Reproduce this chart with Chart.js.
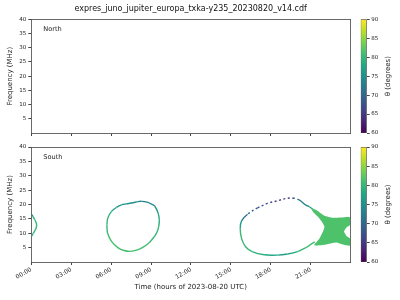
<!DOCTYPE html>
<html>
<head>
<meta charset="utf-8">
<script src="https://cdn.jsdelivr.net/npm/chart.js@4.4.0/dist/chart.umd.min.js"></script>
<style>
  body { margin: 0; background: #fff; width: 400px; height: 300px; position: relative; overflow: hidden; }
  canvas { position: absolute; }
</style>
</head>
<body>
<canvas id="north" width="355" height="140" style="left:0;top:0"></canvas>
<canvas id="south" width="355" height="160" style="left:0;top:140px"></canvas>
<canvas id="cbNorth" width="45" height="140" style="left:355px;top:0"></canvas>
<canvas id="cbSouth" width="45" height="160" style="left:355px;top:140px"></canvas>
<script>
// axes
const timeTicks = [0, 3, 6, 9, 12, 15, 18, 21]
const timeTickLabels = ['00:00', '03:00', '06:00', '09:00', '12:00', '15:00', '18:00', '21:00']
const freqTicks = [5, 10, 15, 20, 25, 30, 35, 40]
const thetaTicks = [60, 65, 70, 75, 80, 85, 90]

// South emission: time (h), frequency (MHz), theta (deg)
const arcAHours = [0.0, 0.12, 0.25, 0.35, 0.4, 0.37, 0.28, 0.15, 0.03]
const arcAFreq = [16.6, 15.9, 14.8, 13.8, 12.9, 11.9, 11.0, 10.0, 9.0]
const arcATheta = [74, 79, 80, 80, 80, 80, 80, 79, 76]

const arcBHours = [5.68, 5.75, 6.03, 6.4, 6.78, 7.15, 7.65, 8.0, 8.3, 8.7, 9.0, 9.28, 9.53, 9.62, 9.58, 9.48, 9.3, 9.1, 8.85, 8.53, 8.03, 7.4, 6.9, 6.53, 6.03, 5.73, 5.68]
const arcBFreq = [13.0, 15.3, 17.6, 19.0, 19.9, 20.2, 20.6, 21.0, 21.1, 20.8, 20.2, 19.4, 17.0, 14.7, 12.5, 10.8, 9.2, 8.0, 6.7, 5.5, 4.3, 3.7, 4.1, 4.9, 7.2, 10.1, 13.0]
const arcBTheta = [80, 79, 77, 76, 75, 75, 75, 74, 73, 73, 74, 76, 78, 79, 80, 80, 80, 80, 81, 81, 81, 81, 81, 81, 81, 80, 80]

const arcCHours = [21.53, 20.9, 20.63, 20.13, 19.76, 19.2, 18.5, 17.76, 17.0, 16.25, 15.8, 15.7, 15.8, 16.1, 16.6, 17.5, 18.5, 19.26, 20.0, 20.63, 21.0, 21.3]
const arcCFreq = [16.9, 19.2, 19.8, 21.6, 22.15, 22.15, 21.3, 20.4, 18.8, 16.6, 14.3, 11.7, 8.2, 5.3, 3.6, 2.5, 2.4, 2.8, 3.6, 5.0, 6.1, 7.0]
const arcCTheta = [77, 74, 73, 71, 66, 66, 66, 67, 69, 72, 77, 80, 80, 80, 79, 78, 77, 78, 80, 81, 81, 82]

// filled patch at the end of the day
const patchHours = [21.03, 21.41, 22.03, 22.66, 23.3, 23.95, 23.95, 23.7, 23.5, 23.7, 23.95, 23.95, 23.4, 22.91, 22.4, 21.91, 21.28, 21.28, 21.66, 21.91, 22.03, 21.86, 21.53, 21.16]
const patchFreq = [18.7, 18.1, 16.1, 15.4, 15.5, 15.6, 12.9, 12.1, 10.6, 9.0, 8.2, 5.7, 6.1, 6.8, 6.35, 5.9, 5.7, 6.15, 8.2, 10.5, 12.3, 13.8, 15.8, 17.5]
const patchTheta = 81.5

const viridisStops = ['#440154', '#482475', '#414487', '#355f8d', '#2a788e', '#21918c', '#22a884', '#44bf70', '#7ad151', '#bddf26', '#fde725']

function hexRgb(h) {
  return [1, 3, 5].map(i => parseInt(h.slice(i, i + 2), 16))
}

function viridis(theta) {
  let t = Math.min(1, Math.max(0, (theta - 60) / 30)) * (viridisStops.length - 1)
  const i = Math.min(Math.floor(t), viridisStops.length - 2)
  const f = t - i
  const a = hexRgb(viridisStops[i]), b = hexRgb(viridisStops[i + 1])
  const c = a.map((v, k) => Math.round(v + (b[k] - v) * f))
  return `rgb(${c[0]},${c[1]},${c[2]})`
}

function pts(hours, freq) {
  return hours.map((h, i) => ({ x: h, y: freq[i] }))
}

function arc(hours, freq, theta) {
  return {
    data: pts(hours, freq),
    borderWidth: 1.4,
    pointRadius: 0,
    tension: 0.35,
    fill: false,
    borderColor: viridis(theta[0]),
    segment: {
      borderColor: ctx => viridis(theta[ctx.p0DataIndex]),
      // the faint, low-theta stretches come out as broken dashes
      borderDash: ctx => theta[ctx.p0DataIndex] < 72 ? [2, 2.5] : undefined
    }
  }
}

Chart.defaults.font.family = '"DejaVu Sans", sans-serif'
Chart.defaults.color = '#222'

const spine = { color: '#444', width: 0.8 }

const panelLabel = {
  id: 'panelLabel',
  afterDatasetsDraw(chart, args, opts) {
    const { ctx, chartArea } = chart
    ctx.save()
    ctx.font = '6.6px "DejaVu Sans"'
    ctx.fillStyle = '#222'
    ctx.textBaseline = 'middle'
    ctx.fillText(opts.text, chartArea.left + 12, chartArea.top + 10)
    ctx.restore()
  }
}

function panelOptions(name, o) {
  return {
    responsive: false,
    animation: false,
    layout: { padding: { top: o.padTop, right: 5, left: 0, bottom: 0 } },
    plugins: {
      legend: { display: false },
      tooltip: { enabled: false },
      title: {
        display: !!o.title,
        text: o.title,
        fullSize: false,
        color: '#111',
        font: { size: 8, weight: 'normal' },
        padding: { top: 4, bottom: 5.7 }
      },
      panelLabel: { text: name }
    },
    scales: {
      x: {
        type: 'linear',
        min: 0,
        max: 23.95,
        afterBuildTicks: s => { s.ticks = timeTicks.map(v => ({ value: v })) },
        afterFit: s => { s.height = o.xHeight },
        grid: { drawOnChartArea: false, tickLength: 3, color: '#444' },
        border: spine,
        ticks: {
          display: o.showTime,
          autoSkip: false,
          maxRotation: 30,
          minRotation: 30,
          padding: 1,
          font: { size: 6 },
          callback: v => timeTickLabels[timeTicks.indexOf(v)]
        },
        title: {
          display: o.showTime,
          text: 'Time (hours of 2023-08-20 UTC)',
          font: { size: 7 },
          padding: { top: 9, bottom: 9 }
        }
      },
      xTop: {
        type: 'linear',
        position: 'top',
        min: 0,
        max: 23.95,
        afterFit: s => { s.height = 0 },
        grid: { display: false },
        ticks: { display: false },
        border: spine
      },
      y: {
        min: 0,
        max: 40,
        afterBuildTicks: s => { s.ticks = freqTicks.map(v => ({ value: v })) },
        afterFit: s => { s.width = 31.3 },
        grid: { drawOnChartArea: false, tickLength: 3, color: '#444' },
        border: spine,
        ticks: { padding: 2, font: { size: 5.5 } },
        title: {
          display: true,
          text: 'Frequency (MHz)',
          font: { size: 7 },
          padding: { top: 6.1, bottom: 0 }
        }
      },
      yRight: {
        position: 'right',
        min: 0,
        max: 40,
        afterFit: s => { s.width = 0 },
        grid: { display: false },
        ticks: { display: false },
        border: spine
      }
    }
  }
}

new Chart(document.getElementById('north'), {
  type: 'line',
  data: { datasets: [] },
  options: panelOptions('North', {
    title: 'expres_juno_jupiter_europa_txka-y235_20230820_v14.cdf',
    padTop: 0,
    xHeight: 7,
    showTime: false
  }),
  plugins: [panelLabel]
})

new Chart(document.getElementById('south'), {
  type: 'line',
  data: {
    datasets: [
      {
        data: pts(patchHours, patchFreq),
        borderWidth: 0,
        pointRadius: 0,
        tension: 0.15,
        fill: 'shape',
        backgroundColor: viridis(patchTheta)
      },
      arc(arcAHours, arcAFreq, arcATheta),
      arc(arcBHours, arcBFreq, arcBTheta),
      arc(arcCHours, arcCFreq, arcCTheta)
    ]
  },
  options: panelOptions('South', {
    title: '',
    padTop: 7,
    xHeight: 38,
    showTime: true
  }),
  plugins: [panelLabel]
})

// colorbars
function cbGradient(chart) {
  const a = chart.chartArea
  if (!a) return viridis(75)
  const g = chart.ctx.createLinearGradient(0, a.bottom, 0, a.top)
  viridisStops.forEach((c, i) => g.addColorStop(i / (viridisStops.length - 1), c))
  return g
}

const cbLabel = {
  id: 'cbLabel',
  afterDraw(chart) {
    const { ctx, chartArea } = chart
    ctx.save()
    ctx.translate(chartArea.right + 21.3, (chartArea.top + chartArea.bottom) / 2)
    ctx.rotate(-Math.PI / 2)
    ctx.font = '7px "DejaVu Sans"'
    ctx.fillStyle = '#222'
    ctx.textAlign = 'center'
    ctx.textBaseline = 'middle'
    ctx.fillText('θ (degrees)', 0, 0)
    ctx.restore()
  }
}

function colorbar(id, padTop, padBottom) {
  new Chart(document.getElementById(id), {
    type: 'bar',
    data: {
      labels: ['θ'],
      datasets: [{
        data: [[60, 90]],
        backgroundColor: c => cbGradient(c.chart),
        borderColor: '#444',
        borderWidth: 0.8,
        borderSkipped: false,
        barPercentage: 1,
        categoryPercentage: 1
      }]
    },
    options: {
      responsive: false,
      animation: false,
      layout: { padding: { left: 5.7, top: padTop, bottom: padBottom, right: 0 } },
      plugins: { legend: { display: false }, tooltip: { enabled: false } },
      scales: {
        x: { display: false },
        y: {
          position: 'right',
          min: 60,
          max: 90,
          afterBuildTicks: s => { s.ticks = thetaTicks.map(v => ({ value: v })) },
          afterFit: s => { s.width = 33.3 },
          grid: { drawOnChartArea: false, tickLength: 3, color: '#444' },
          border: { display: false },
          ticks: { padding: 1.5, font: { size: 5.5 } }
        }
      }
    },
    plugins: [cbLabel]
  })
}

colorbar('cbNorth', 19.3, 7)
colorbar('cbSouth', 7, 38)
</script>
</body>
</html>
